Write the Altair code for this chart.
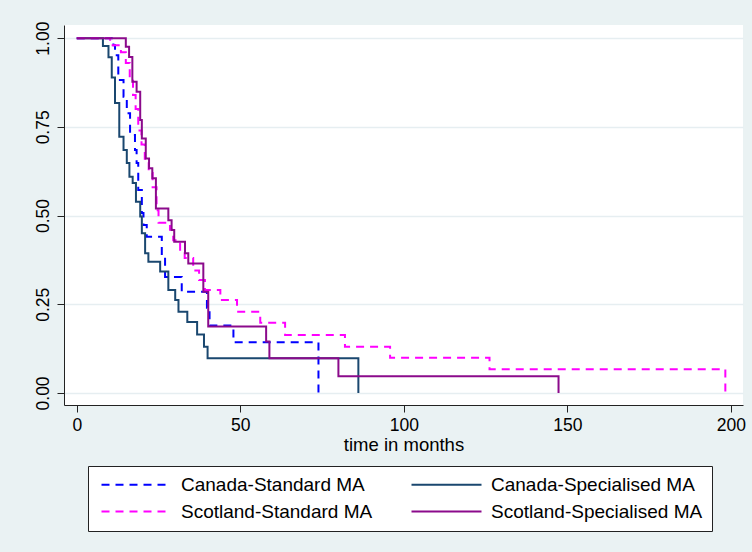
import altair as alt
import pandas as pd

# ---- data (time in months, survival proportion) ----
series_names = ["Canada-Standard MA", "Canada-Specialised MA",
                "Scotland-Standard MA", "Scotland-Specialised MA"]

can_std_t = [0, 11.2, 11.7, 12.7, 14.3, 15.3, 16.3, 17.8, 18.3, 18.8, 19.9,
             20.4, 21.4, 26.0, 27.0, 32.1, 39.8, 40.6, 47.9, 73.9]
can_std_s = [1.0, 0.98, 0.952, 0.882, 0.835, 0.788, 0.727, 0.685, 0.648, 0.572,
             0.507, 0.473, 0.44, 0.384, 0.327, 0.285, 0.24, 0.19, 0.143, 0.0]

can_spe_t = [0, 8.0, 9.7, 10.7, 11.7, 13.0, 14.3, 15.3, 16.1, 17.1, 18.1, 19.4,
             19.9, 20.9, 21.9, 25.5, 28.0, 30.1, 31.1, 33.8, 36.8, 38.9, 40.0, 86.1]
can_spe_s = [1.0, 0.978, 0.946, 0.889, 0.817, 0.722, 0.685, 0.648, 0.609, 0.592,
             0.539, 0.497, 0.45, 0.394, 0.37, 0.342, 0.29, 0.262, 0.229, 0.2,
             0.165, 0.13, 0.098, 0.0]

sco_std_t = [0, 10.2, 13.5, 15.0, 16.2, 17.2, 18.0, 18.8, 19.8, 20.8, 22.0, 23.2,
             24.4, 25.0, 28.5, 29.5, 31.6, 33.0, 35.6, 37.4, 39.2, 43.9, 49.0,
             56.1, 63.7, 82.0, 95.8, 126.2, 198.3]
sco_std_s = [1.0, 0.98, 0.96, 0.93, 0.89, 0.84, 0.80, 0.74, 0.70, 0.66, 0.62, 0.58,
             0.515, 0.48, 0.46, 0.43, 0.40, 0.38, 0.345, 0.318, 0.29, 0.262, 0.229,
             0.198, 0.163, 0.13, 0.099, 0.067, 0.0]

sco_spe_t = [0, 15.0, 16.0, 17.0, 18.3, 19.4, 19.9, 21.1, 22.1, 23.1, 24.2, 28.0,
             29.0, 29.8, 33.1, 34.1, 38.7, 40.2, 57.9, 58.9, 80.0, 147.3]
sco_spe_s = [1.0, 0.976, 0.947, 0.877, 0.849, 0.769, 0.717, 0.661, 0.633, 0.605,
             0.52, 0.487, 0.459, 0.426, 0.394, 0.365, 0.285, 0.187, 0.145, 0.098,
             0.047, 0.0]

x_ticks = [0, 50, 100, 150, 200]
y_ticks = [0, 0.25, 0.5, 0.75, 1.0]

colors = ["#0000FF", "#1A476F", "#FF00FF", "#8B0A8B"]
dashes = [[8, 6], [1, 0], [8, 6], [1, 0]]

rows = []
for name, ts, ss in [(series_names[0], can_std_t, can_std_s),
                     (series_names[1], can_spe_t, can_spe_s),
                     (series_names[2], sco_std_t, sco_std_s),
                     (series_names[3], sco_spe_t, sco_spe_s)]:
    for t, s in zip(ts, ss):
        rows.append({"series": name, "time": t, "surv": s})
df = pd.DataFrame(rows)

FONT = "Liberation Sans"

chart = alt.Chart(df).mark_line(interpolate="step-after", strokeWidth=2, clip=True).encode(
    x=alt.X("time:Q",
            scale=alt.Scale(domain=[-3.9, 203.7], nice=False, zero=False),
            axis=alt.Axis(values=x_ticks, format="d", title="time in months",
                          grid=False, tickSize=7, labelPadding=4,
                          titlePadding=2)),
    y=alt.Y("surv:Q",
            scale=alt.Scale(domain=[-0.034, 1.037], nice=False, zero=False),
            axis=alt.Axis(values=y_ticks, format=".2f", title=None,
                          grid=True, tickSize=7, labelAngle=270,
                          labelAlign="center", labelBaseline="bottom",
                          labelPadding=5)),
    color=alt.Color("series:N",
                    scale=alt.Scale(domain=series_names, range=colors),
                    legend=alt.Legend(title=None, orient="none", legendX=24, legendY=441,
                                      direction="horizontal", columns=2,
                                      symbolType="M-7,0L7,0", symbolSize=100,
                                      symbolOffset=30, labelOffset=35,
                                      symbolStrokeWidth=2, labelFontSize=19,
                                      labelFont=FONT, labelColor="#000",
                                      columnPadding=34, rowPadding=7,
                                      fillColor="#FFFFFF", strokeColor="#222",
                                      padding=9, labelLimit=400)),
    strokeDash=alt.StrokeDash("series:N",
                              scale=alt.Scale(domain=series_names, range=dashes),
                              legend=None),
).properties(
    width=679, height=380,
    autosize=alt.AutoSizeParams(type="none"),
    padding={"left": 64, "top": 25, "right": 9, "bottom": 147},
    background="#EAF2F3",
).configure_view(
    fill="#FFFFFF", stroke=None
).configure_axis(
    labelFont=FONT, titleFont=FONT, labelFontSize=17.5, titleFontSize=18.5,
    titleFontWeight="normal", labelColor="#000", titleColor="#000",
    domainColor="#222", tickColor="#222", gridColor="#E6EEF1", gridWidth=1.5,
)

chart.save("out.html", embed_options={"renderer": "svg", "actions": False})
